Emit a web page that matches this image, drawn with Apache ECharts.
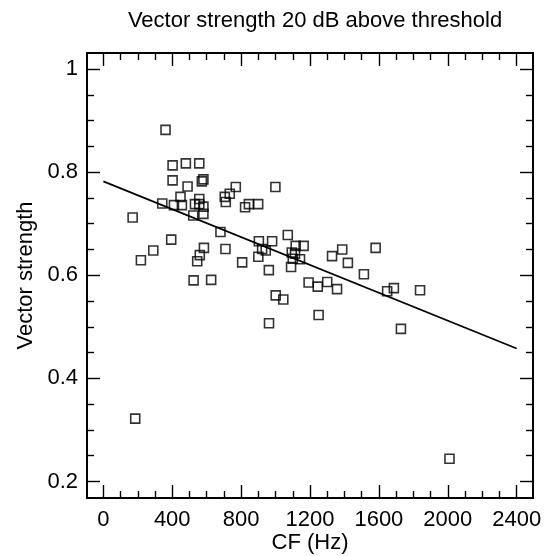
<!DOCTYPE html>
<html>
<head>
<meta charset="utf-8">
<script src="https://cdn.jsdelivr.net/npm/echarts@6/dist/echarts.min.js"></script>
<style>html,body{margin:0;padding:0;background:#fff}#c{width:546px;height:556px}</style>
</head>
<body>
<div id="c"></div>
<script>
// CF (Hz) and vector strength of each unit
const cfHz = [361,402,479,557,402,489,572,581,769,999,448,342,410,456,557,532,557,581,581,522,705,734,711,823,845,899,170,680,394,903,980,1071,1117,1163,290,218,584,560,545,709,524,626,806,922,943,900,961,1001,1045,962,1094,1113,1100,1142,1090,1192,1245,1250,1300,1357,1328,1387,1420,1513,1581,1648,1687,1839,1728,185,2010];
const vectorStrength = [0.882,0.813,0.817,0.817,0.784,0.772,0.782,0.786,0.771,0.771,0.752,0.739,0.736,0.736,0.748,0.738,0.738,0.733,0.719,0.716,0.752,0.758,0.742,0.732,0.738,0.738,0.712,0.684,0.669,0.666,0.666,0.678,0.657,0.657,0.648,0.629,0.653,0.639,0.627,0.651,0.590,0.591,0.625,0.651,0.648,0.636,0.610,0.561,0.553,0.507,0.644,0.642,0.632,0.631,0.616,0.586,0.578,0.523,0.587,0.573,0.637,0.650,0.624,0.602,0.653,0.569,0.575,0.571,0.496,0.322,0.244];
// regression line end points
const fitX = [0, 2400];
const fitY = [0.782, 0.458];
// tick values
const xMajor = [0,400,800,1200,1600,2000,2400];
const xMinor = [100,200,300,500,600,700,900,1000,1100,1300,1400,1500,1700,1800,1900,2100,2200,2300];
const yMajor = [0.2,0.4,0.6,0.8,1.0];
const yMinor = [0.25,0.3,0.35,0.45,0.5,0.55,0.65,0.7,0.75,0.85,0.9,0.95];

const X_MIN = -95, X_MAX = 2495, Y_MIN = 0.168, Y_MAX = 1.031;
const FONT = 'Liberation Sans, Arial, Helvetica, sans-serif';
const FS = 22;
const lineSt = {color:'#000', width:1.8};

function xAx(pos, ticks, len, labels, name) {
  return {
    type:'value', position:pos, min:X_MIN, max:X_MAX,
    splitLine:{show:false},
    axisLine:{show:true, onZero:false, lineStyle:lineSt},
    axisTick:{show:true, inside:true, length:len, customValues:ticks, lineStyle:{color:'#000', width:1.4}},
    axisLabel:{show:labels, customValues:ticks, fontSize:FS, color:'#000', fontFamily:FONT, margin:11,
      formatter: v => String(Math.round(v))},
    name:name||'', nameLocation:'middle', nameGap:34, nameMoveOverlap:false,
    nameTextStyle:{fontSize:FS, color:'#000', fontFamily:FONT}
  };
}
function yAx(pos, ticks, len, labels, name) {
  return {
    type:'value', position:pos, min:Y_MIN, max:Y_MAX,
    splitLine:{show:false},
    axisLine:{show:true, onZero:false, lineStyle:lineSt},
    axisTick:{show:true, inside:true, length:len, customValues:ticks, lineStyle:{color:'#000', width:1.4}},
    axisLabel:{show:labels, customValues:ticks, fontSize:FS, color:'#000', fontFamily:FONT, margin:9,
      formatter: v => (Math.round(v*10)/10 === 1 ? '1' : String(Math.round(v*10)/10))},
    name:name||'', nameLocation:'middle', nameGap:49,
    nameTextStyle:{fontSize:FS, color:'#000', fontFamily:FONT}
  };
}

const chart = echarts.init(document.getElementById('c'), null, {renderer:'canvas'});
chart.setOption({
  animation:false,
  backgroundColor:'#fff',
  title:{text:'Vector strength 20 dB above threshold', left:310, top:5, textAlign:'center',
    textStyle:{fontSize:FS, fontWeight:'normal', color:'#000', fontFamily:FONT}},
  grid:{left:87, right:13, top:53, bottom:58, containLabel:false, outerBoundsMode:'none'},
  xAxis:[
    xAx('bottom', xMajor, 13, true, 'CF (Hz)'),
    xAx('bottom', xMinor, 7, false),
    xAx('top', xMajor, 13, false),
    xAx('top', xMinor, 7, false)
  ],
  yAxis:[
    yAx('left', yMajor, 13, true, 'Vector strength'),
    yAx('left', yMinor, 7, false),
    yAx('right', yMajor, 13, false),
    yAx('right', yMinor, 7, false)
  ],
  series:[
    {type:'line', xAxisIndex:0, yAxisIndex:0, data: fitX.map((x,i)=>[x, fitY[i]]),
      showSymbol:false, lineStyle:{color:'#000', width:1.7}, z:2},
    {type:'scatter', xAxisIndex:0, yAxisIndex:0, data: cfHz.map((x,i)=>[x, vectorStrength[i]]),
      symbol:'rect', symbolSize:9,
      itemStyle:{color:'rgba(0,0,0,0)', borderColor:'#000', borderWidth:1.6}, z:3}
  ]
});
</script>
</body>
</html>
